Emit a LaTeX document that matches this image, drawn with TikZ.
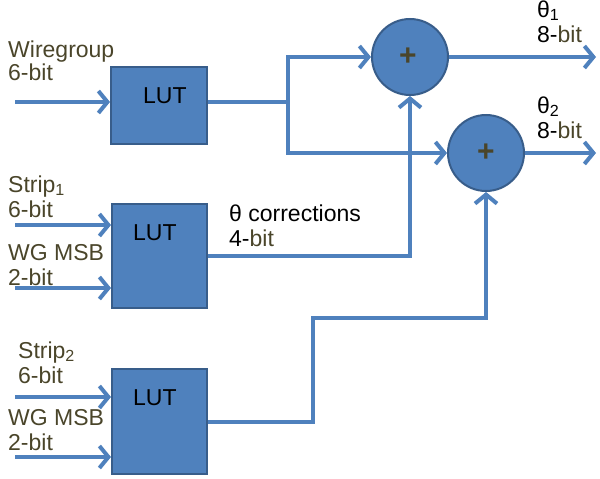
\documentclass[tikz,border=0pt]{standalone}
\usepackage{fontspec}
\setmainfont{Liberation Sans}
\usetikzlibrary{arrows.meta}
\definecolor{lineblue}{RGB}{79,129,189}
\definecolor{boxfill}{RGB}{79,129,189}
\definecolor{boxdraw}{RGB}{56,93,138}
\definecolor{olive}{RGB}{74,69,42}
\begin{document}
\begin{tikzpicture}[x=1pt,y=-1pt,
  lutbox/.style={draw=boxdraw, fill=boxfill, line width=2pt, rectangle, inner sep=0pt},
  adder/.style={draw=boxdraw, fill=boxfill, line width=2pt, circle, minimum size=76pt, inner sep=0pt},
  wire/.style={draw=lineblue, line width=4pt},
  arr/.style={wire, -{Straight Barb[length=9pt,width=22pt,line width=4pt]}},
  lbl/.style={anchor=base west, inner sep=0pt, font=\fontsize{23}{25}\selectfont, text=olive},
  blk/.style={lbl, text=black},
  luttext/.style={anchor=base west, inner sep=0pt, font=\fontsize{23}{25}\selectfont, text=black},
  plus/.style={inner sep=0pt, font=\fontsize{30}{30}\selectfont\bfseries, text=olive}]
\useasboundingbox (0,0) rectangle (600,479);

% boxes
\node[lutbox, minimum width=96pt, minimum height=77pt] (b1) at (159,105.5) {};
\node[lutbox, minimum width=95pt, minimum height=104pt] (b2) at (159.5,256) {};
\node[lutbox, minimum width=95pt, minimum height=105pt] (b3) at (159.5,421.5) {};
\node[luttext] (l1) at (143,103) {LUT};
\node[luttext] (l2) at (133,240) {LUT};
\node[luttext] (l3) at (133,405) {LUT};

% adders
\node[adder] (c1) at (410,57) {};
\node[adder] (c2) at (486,153) {};
\node[plus] (p1) at (408,57) {+};
\node[plus] (p2) at (486,153) {+};

% free ends
\coordinate (in1) at (15,102);
\coordinate (in2a) at (15,225);
\coordinate (in2b) at (15,288);
\coordinate (in3a) at (15,397);
\coordinate (in3b) at (15,457);
\coordinate (br) at (288,102);
\coordinate (k) at (313,318);
\coordinate (o1) at (596,57);
\coordinate (o2) at (596,153);

% connectors
\draw[arr] (in1) -- (in1 -| b1.west);
\draw[arr] (in2a) -- (in2a -| b2.west);
\draw[arr] (in2b) -- (in2b -| b2.west);
\draw[arr] (in3a) -- (in3a -| b3.west);
\draw[arr] (in3b) -- (in3b -| b3.west);
\draw[wire] (b1.east |- br) -- (br);
\draw[arr] (br) |- (c1.west);
\draw[arr] (br) |- (c2.west);
\draw[arr] (b2.east) -| (c1.south);
\draw[arr] (b3.east) -| (k) -| (c2.south);
\draw[arr] (c1.east) -- (o1);
\draw[arr] (c2.east) -- (o2);

% labels
\node[lbl] (wg1) at (8,57) {Wiregroup};
\node[lbl] (wg2) at (8,80) {6-bit};
\node[lbl] (s1a) at (8,192) {Strip\textsubscript{1}};
\node[lbl] (s1b) at (8,217) {6-bit};
\node[lbl] (m1a) at (8,260) {WG MSB};
\node[lbl] (m1b) at (8,285) {2-bit};
\node[lbl] (s2a) at (18,358) {Strip\textsubscript{2}};
\node[lbl] (s2b) at (18,383) {6-bit};
\node[lbl] (m2a) at (8,425) {WG MSB};
\node[lbl] (m2b) at (8,450) {2-bit};
\node[blk] (corr1) at (229,221) {θ corrections};
\node[blk] (corr2) at (229,246) {4-\textcolor{olive}{bit}};
\node[blk] (t1a) at (537,17) {θ\textsubscript{1}};
\node[blk] (t1b) at (537,42) {8-\textcolor{olive}{bit}};
\node[blk] (t2a) at (537,113) {θ\textsubscript{2}};
\node[blk] (t2b) at (537,138) {8-\textcolor{olive}{bit}};
\end{tikzpicture}
\end{document}
